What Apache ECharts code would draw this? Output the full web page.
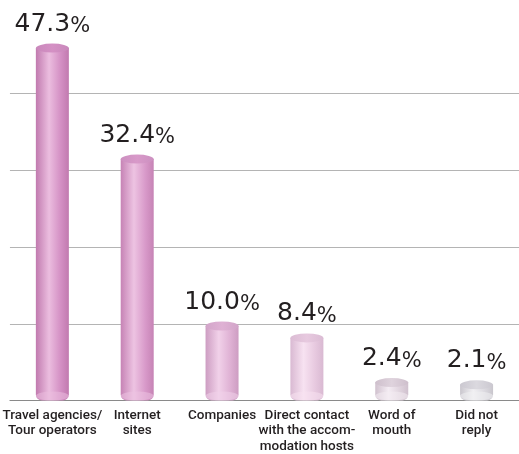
<!DOCTYPE html>
<html>
<head>
<meta charset="utf-8">
<script src="https://cdn.jsdelivr.net/npm/echarts@6/dist/echarts.min.js"></script>
<style>
  html, body { margin: 0; padding: 0; background: #fff; }
  #chart { width: 519px; height: 454px; }
</style>
</head>
<body>
<div id="chart"></div>
<script>
// booking channels, share of answers in %
const categories = [
  'Travel agencies/\nTour operators',
  'Internet\nsites',
  'Companies',
  'Direct contact\nwith the accom-\nmodation hosts',
  'Word of\nmouth',
  'Did not\nreply'
];
const shares = [47.3, 32.4, 10.0, 8.4, 2.4, 2.1];

// cylinder shading per bar: left edge, highlight, right edge, top cap
const shades = [
  ['#c17aaf', '#ebbddf', '#d490c4', '#c988bb'],
  ['#c683b5', '#edc3e2', '#d899c9', '#cc90c0'],
  ['#cd9dc2', '#f1d1e9', '#dfb1d4', '#d2a5c9'],
  ['#d9b9d2', '#f7e2f1', '#e7c9df', '#dbbcd4'],
  ['#d0c1ce', '#f4ecf3', '#dfd3dd', '#cebfcc'],
  ['#c9c6cd', '#f1f0f3', '#dbd9df', '#cbc8d0']
];

function bodyGradient(s) {
  return new echarts.graphic.LinearGradient(0, 0, 1, 0, [
    { offset: 0, color: s[0] },
    { offset: 0.4, color: s[1] },
    { offset: 0.75, color: s[2] },
    { offset: 1, color: s[0] }
  ]);
}

function capGradient(s) {
  return new echarts.graphic.LinearGradient(0, 0, 1, 0, [
    { offset: 0, color: s[3] },
    { offset: 0.5, color: s[2] },
    { offset: 1, color: s[3] }
  ]);
}

const chart = echarts.init(document.getElementById('chart'));

chart.setOption({
  animation: false,
  grid: {
    left: 9,
    right: -5,
    top: 28,
    bottom: 48.5
  },
  xAxis: {
    type: 'category',
    data: categories,
    axisLine: { lineStyle: { color: '#8a8a8a', width: 1 } },
    axisTick: { inside: true, length: 11, lineStyle: { color: '#444' } },
    axisLabel: {
      interval: 0,
      margin: 7,
      color: '#231f20',
      fontFamily: 'Roboto',
      fontWeight: 500,
      fontSize: 13.5,
      lineHeight: 15.5
    }
  },
  yAxis: {
    type: 'value',
    min: 0,
    max: 50,
    interval: 10.3,
    axisLine: { show: false },
    axisTick: { show: false },
    axisLabel: { show: false },
    splitLine: {
      showMaxLine: false,
      lineStyle: { color: '#b4b4b4', width: 1 }
    }
  },
  series: [
    {
      type: 'bar',
      barWidth: 33,
      z: 2,
      data: shares.map((v, i) => ({
        value: v,
        itemStyle: { color: bodyGradient(shades[i]), borderRadius: [0, 0, 6, 6] }
      })),
      label: {
        show: true,
        position: 'top',
        distance: 11,
        formatter: (p) => '{n|' + p.value.toFixed(1) + '}{p|%}',
        rich: {
          n: { fontFamily: 'DejaVu Sans', fontSize: 25, lineHeight: 26, color: '#231f20' },
          p: { fontFamily: 'DejaVu Sans', fontSize: 21, lineHeight: 24, color: '#231f20', verticalAlign: 'bottom' }
        }
      }
    },
    {
      type: 'pictorialBar',
      symbol: 'circle',
      symbolSize: [33, 9],
      symbolPosition: 'start',
      symbolOffset: [0, 0],
      barGap: '-100%',
      z: 3,
      silent: true,
      data: shares.map((v, i) => ({
        value: v,
        itemStyle: { color: shades[i][1], opacity: 0.55 }
      }))
    },
    {
      type: 'pictorialBar',
      symbol: 'circle',
      symbolSize: [33, 9],
      symbolPosition: 'end',
      symbolOffset: [0, '-50%'],
      barGap: '-100%',
      z: 4,
      silent: true,
      data: shares.map((v, i) => ({
        value: v,
        itemStyle: { color: capGradient(shades[i]) }
      }))
    }
  ]
});
</script>
</body>
</html>
